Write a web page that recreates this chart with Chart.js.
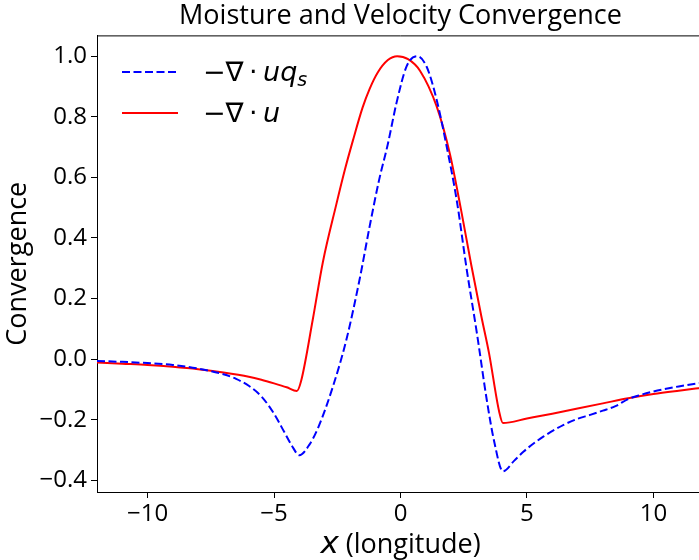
<!DOCTYPE html>
<html>
<head>
<meta charset="utf-8">
<script src="https://cdn.jsdelivr.net/npm/chart.js@4.4.1/dist/chart.umd.min.js"></script>
<style>
  html, body { margin: 0; padding: 0; background: #fff; overflow: hidden; }
  #wrap { width: 699px; height: 560px; overflow: hidden; }
</style>
</head>
<body>
<div id="wrap"><canvas id="conv" width="704" height="560"></canvas></div>
<script>
// -div(u): solid red
const xU = [-12, -11, -10, -9, -8, -7, -6, -5.5, -5, -4.5, -4.1, -3.93, -3.47, -3.07, -2.54, -2.2, -1.88, -1.5, -1.22, -0.9, -0.5, -0.13, 0.3, 0.77, 1.43, 1.96, 2.4, 2.8, 3.2, 3.5, 3.9, 4.05, 5, 6, 7, 8, 9, 10, 11, 12];
const convU = [-0.011, -0.015, -0.019, -0.025, -0.033, -0.044, -0.058, -0.068, -0.080, -0.093, -0.105, -0.072, 0.13, 0.32, 0.51, 0.625, 0.722, 0.83, 0.892, 0.946, 0.987, 1.0, 0.99, 0.952, 0.834, 0.675, 0.49, 0.31, 0.14, 0.02, -0.173, -0.211, -0.196, -0.18, -0.163, -0.146, -0.129, -0.115, -0.104, -0.094];

// -div(u q_s): dashed blue
const xUq = [-12, -11, -10, -9, -8, -7, -6.5, -6, -5.5, -5, -4.6, -4.3, -4.0, -3.6, -3.25, -2.67, -2.14, -1.62, -1.22, -0.85, -0.5, -0.16, 0.24, 0.65, 1.03, 1.43, 1.83, 2.22, 2.62, 3.02, 3.41, 3.7, 4.05, 4.5, 4.87, 5.3, 5.66, 6.45, 7, 7.5, 8, 8.5, 9, 9.5, 10, 11, 12];
const convUq = [-0.006, -0.009, -0.013, -0.019, -0.031, -0.05, -0.065, -0.088, -0.123, -0.18, -0.24, -0.285, -0.317, -0.282, -0.225, -0.09, 0.064, 0.262, 0.438, 0.59, 0.71, 0.845, 0.966, 1.0, 0.966, 0.856, 0.70, 0.526, 0.295, 0.086, -0.134, -0.27, -0.37, -0.335, -0.305, -0.276, -0.255, -0.217, -0.197, -0.184, -0.17, -0.155, -0.132, -0.118, -0.107, -0.09, -0.077];

const xTicks = [-10, -5, 0, 5, 10];
const yTicks = [-0.4, -0.2, 0.0, 0.2, 0.4, 0.6, 0.8, 1.0];

const textFont = "'Open Sans', 'Noto Sans', sans-serif";
const mathFont = "'DejaVu Sans', sans-serif";

function pts(xs, ys) {
  return xs.map((x, i) => ({ x: x, y: ys[i] }));
}

// top spine, legend with math text, x label with italic x
const extras = {
  id: "extras",
  afterDraw(chart) {
    const c = chart.ctx;
    const a = chart.chartArea;
    c.save();
    c.strokeStyle = "#000";
    c.lineWidth = 1;
    c.beginPath();
    c.moveTo(a.left, a.top + 0.5);
    c.lineTo(a.right, a.top + 0.5);
    c.stroke();

    // legend
    const rows = [
      { ds: chart.data.datasets[0], y: 72, sub: "s" },
      { ds: chart.data.datasets[1], y: 113, sub: null }
    ];
    rows.forEach(r => {
      c.strokeStyle = r.ds.borderColor;
      c.lineWidth = r.ds.borderWidth;
      c.setLineDash(r.ds.borderDash || []);
      c.beginPath();
      c.moveTo(122, r.y);
      c.lineTo(178, r.y);
      c.stroke();
      c.setLineDash([]);
      c.fillStyle = "#000";
      c.textBaseline = "alphabetic";
      let x = 203;
      const base = r.y + 9;
      c.font = "27px " + mathFont;
      c.fillText("\u2212\u2207\u2009\u00b7\u2009", x, base);
      x += c.measureText("\u2212\u2207\u2009\u00b7\u2009").width;
      c.font = "italic 27px " + mathFont;
      const main = r.sub ? "uq" : "u";
      c.fillText(main, x, base);
      x += c.measureText(main).width;
      if (r.sub) {
        c.font = "italic 19px " + mathFont;
        c.fillText(r.sub, x, base + 5);
      }
    });

    // x axis label
    c.fillStyle = "#000";
    c.font = "italic 31px " + mathFont;
    const wx = c.measureText("x").width;
    c.font = "27px " + textFont;
    const rest = " (longitude)";
    const wr = c.measureText(rest).width;
    let sx = (a.left + a.right) / 2 - (wx + wr) / 2;
    c.font = "italic 31px " + mathFont;
    c.fillText("x", sx, 553);
    c.font = "27px " + textFont;
    c.fillText(rest, sx + wx, 553);
    c.restore();
  }
};

new Chart(document.getElementById("conv"), {
  type: "line",
  data: {
    datasets: [
      {
        label: "\u2212\u2207\u00b7uq_s",
        data: pts(xUq, convUq),
        borderColor: "#0000ff",
        borderWidth: 2,
        borderDash: [8, 3.5],
        pointRadius: 0,
        cubicInterpolationMode: "monotone",
        fill: false
      },
      {
        label: "\u2212\u2207\u00b7u",
        data: pts(xU, convU),
        borderColor: "#ff0000",
        borderWidth: 2,
        pointRadius: 0,
        cubicInterpolationMode: "monotone",
        fill: false
      }
    ]
  },
  options: {
    responsive: false,
    animation: false,
    layout: { padding: { left: 0, right: 0, top: 0, bottom: 0 } },
    plugins: {
      legend: { display: false },
      tooltip: { enabled: false },
      title: {
        display: true,
        fullSize: false,
        text: "Moisture and Velocity Convergence",
        color: "#000",
        font: { family: textFont, size: 27, weight: "normal" },
        padding: { top: 0, bottom: 3 }
      }
    },
    scales: {
      x: {
        type: "linear",
        min: -12,
        max: 12,
        afterBuildTicks: s => { s.ticks = xTicks.map(v => ({ value: v })); },
        afterFit: s => { s.height = 68; },
        grid: { display: true, drawOnChartArea: false, drawTicks: true, tickLength: 6, color: "#000" },
        border: { display: true, color: "#000", width: 1 },
        ticks: {
          color: "#000",
          padding: 2,
          maxRotation: 0,
          font: { family: textFont, size: 24 },
          callback: v => String(v).replace("-", "\u2212")
        }
      },
      y: {
        type: "linear",
        min: -0.4385,
        max: 1.0685,
        afterBuildTicks: s => { s.ticks = yTicks.map(v => ({ value: v })); },
        afterFit: s => { s.width = 97; },
        grid: { display: true, drawOnChartArea: false, drawTicks: true, tickLength: 6, color: "#000" },
        border: { display: true, color: "#000", width: 1 },
        title: {
          display: true,
          text: "Convergence",
          color: "#000",
          font: { family: textFont, size: 27 },
          padding: { top: 2, bottom: 0 }
        },
        ticks: {
          color: "#000",
          padding: 4,
          font: { family: textFont, size: 24 },
          callback: v => v.toFixed(1).replace("-", "\u2212")
        }
      }
    }
  },
  plugins: [extras]
});
</script>
</body>
</html>
